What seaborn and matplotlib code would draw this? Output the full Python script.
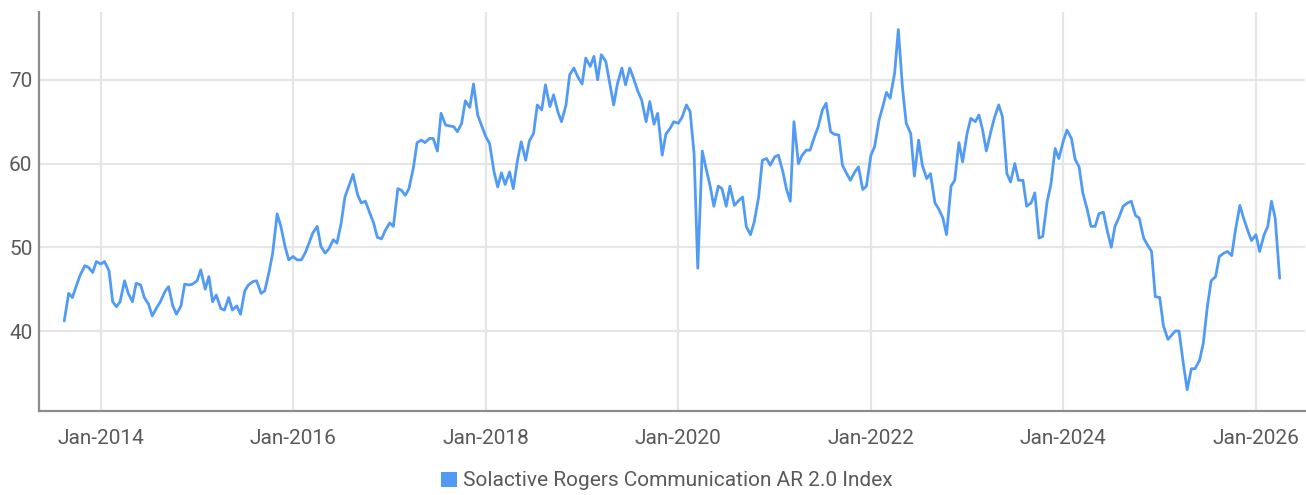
import pandas as pd
import seaborn as sns
import matplotlib
matplotlib.use('Agg')
import matplotlib.pyplot as plt
import matplotlib.dates as mdates
from matplotlib import font_manager
from matplotlib.patches import Patch

# Значения индекса (1-е и 15-е число каждого месяца)
v2013 = [41.2, 44.5, 44.0, 45.5, 46.7, 47.8, 47.6, 47.0, 48.3]
v2014 = [48.0, 48.3, 47.2, 43.5, 42.9, 43.5, 46.0, 44.5, 43.5, 45.7, 45.5, 44.0,
         43.2, 41.8, 42.8, 43.5, 44.7, 45.3, 43.0, 42.0, 43.0, 45.6, 45.5, 45.6]
v2015 = [46.0, 47.3, 45.0, 46.5, 43.5, 44.3, 42.7, 42.5, 44.0, 42.5, 43.0, 42.0,
         44.8, 45.5, 45.9, 46.0, 44.5, 44.8, 47.0, 49.3, 54.0, 52.5, 50.1, 48.5]
v2016 = [48.9, 48.5, 48.5, 49.3, 50.5, 51.7, 52.5, 50.1, 49.3, 49.8, 50.9, 50.5,
         52.9, 56.0, 57.5, 58.7, 56.3, 55.3, 55.5, 54.3, 52.9, 51.2, 51.0, 52.0]
v2017 = [52.9, 52.5, 57.0, 56.8, 56.2, 57.0, 59.5, 62.5, 62.8, 62.5, 63.0, 63.0,
         61.5, 66.0, 64.6, 64.5, 64.4, 63.8, 64.8, 67.5, 66.7, 69.5, 65.8, 64.6]
v2018 = [63.2, 62.4, 59.0, 57.2, 58.9, 57.5, 59.0, 57.0, 60.4, 62.6, 60.4, 62.7,
         63.6, 67.0, 66.4, 69.4, 66.8, 68.2, 66.2, 65.0, 67.0, 70.6, 71.4, 70.4]
v2019 = [69.5, 72.6, 71.6, 72.8, 70.0, 73.0, 72.2, 69.8, 67.0, 69.5, 71.4, 69.4,
         71.4, 70.2, 68.6, 67.6, 65.0, 67.4, 64.7, 66.0, 61.0, 63.5, 64.2, 65.0]
v2020 = [64.8, 65.5, 67.0, 66.2, 61.2, 47.5, 61.5, 59.5, 57.3, 54.9, 57.3, 57.0,
         54.9, 57.3, 55.0, 55.5, 56.0, 52.5, 51.5, 53.0, 56.0, 60.4, 60.6, 59.8]
v2021 = [60.8, 61.0, 59.0, 56.9, 55.5, 65.0, 60.0, 61.0, 61.6, 61.6, 63.2, 64.4,
         66.4, 67.2, 63.8, 63.5, 63.4, 59.8, 58.8, 58.0, 59.0, 59.6, 56.9, 57.3]
v2022 = [61.0, 62.0, 65.2, 66.8, 68.5, 67.8, 70.8, 76.0, 69.0, 64.8, 63.6, 58.5,
         62.8, 59.8, 58.2, 58.8, 55.3, 54.6, 53.5, 51.5, 57.3, 58.0, 62.5, 60.2]
v2023 = [63.6, 65.4, 65.0, 65.8, 64.0, 61.5, 63.8, 65.5, 67.0, 65.6, 58.8, 57.8,
         60.0, 58.0, 58.0, 54.9, 55.3, 56.5, 51.1, 51.3, 55.5, 57.5, 61.8, 60.6]
v2024 = [62.7, 64.0, 63.0, 60.5, 59.6, 56.5, 54.5, 52.5, 52.5, 54.0, 54.2, 52.1,
         50.0, 52.5, 53.7, 54.9, 55.3, 55.5, 53.8, 53.5, 51.1, 50.3, 49.5, 44.1]
v2025 = [44.0, 40.6, 39.0, 39.5, 40.0, 40.0, 36.0, 33.0, 35.5, 35.5, 36.5, 38.5,
         43.0, 46.0, 46.5, 48.9, 49.3, 49.5, 49.0, 52.0, 55.0, 53.5, 52.0, 50.8]
v2026 = [51.5, 49.5, 51.5, 52.5, 55.5, 53.5, 46.3]

values = (v2013 + v2014 + v2015 + v2016 + v2017 + v2018 + v2019 + v2020 +
          v2021 + v2022 + v2023 + v2024 + v2025 + v2026)
dates = pd.date_range('2013-08-15', periods=len(values), freq='SMS')
series_name = 'Solactive Rogers Communication AR 2.0 Index'
y_ticks = [40, 50, 60, 70]

df = pd.DataFrame({'Дата': dates, 'Значение': values})

LINE_COLOR = '#529BF5'
TEXT_COLOR = '#5A5A5A'
GRID_COLOR = '#E6E6E6'
SPINE_COLOR = '#8C8C8C'

sns.set_style('white')
installed = {f.name for f in font_manager.fontManager.ttflist}
if 'Liberation Sans Narrow' in installed:
    plt.rcParams['font.family'] = ['Liberation Sans Narrow', 'DejaVu Sans']
    fsize = 16.5
else:
    plt.rcParams['font.family'] = ['Roboto', 'DejaVu Sans']
    fsize = 15

fig = plt.figure(figsize=(13.06, 4.95), dpi=100)
ax = fig.add_axes([0.0302, 0.1697, 0.9688, 0.8061])

sns.lineplot(data=df, x='Дата', y='Значение', ax=ax, color=LINE_COLOR,
             linewidth=2.0, legend=False)

ax.set_xlim(pd.Timestamp('2013-05-13'), pd.Timestamp('2026-07-05'))
ax.set_ylim(30.45, 78.1)
ax.set_yticks(y_ticks)
ax.xaxis.set_major_locator(mdates.YearLocator(2, month=1, day=1))
ax.xaxis.set_major_formatter(mdates.DateFormatter('%b-%Y'))

ax.grid(True, color=GRID_COLOR, linewidth=1.6)
ax.set_axisbelow(True)
for side in ['top', 'right']:
    ax.spines[side].set_visible(False)
for side in ['left', 'bottom']:
    ax.spines[side].set_color(SPINE_COLOR)
    ax.spines[side].set_linewidth(1.6)

ax.tick_params(axis='both', length=0, labelsize=fsize, labelcolor=TEXT_COLOR)
ax.tick_params(axis='y', pad=5)
ax.tick_params(axis='x', pad=13)
ax.set_xlabel('')
ax.set_ylabel('')

handle = Patch(facecolor=LINE_COLOR, edgecolor='none')
fig.legend([handle], [series_name], loc='center',
           bbox_to_anchor=(667 / 1306, 1 - 481 / 495), frameon=False,
           fontsize=fsize, labelcolor=TEXT_COLOR, handlelength=0.75,
           handleheight=0.7, handletextpad=0.3)

plt.savefig('out.png', dpi=100)
plt.close()
